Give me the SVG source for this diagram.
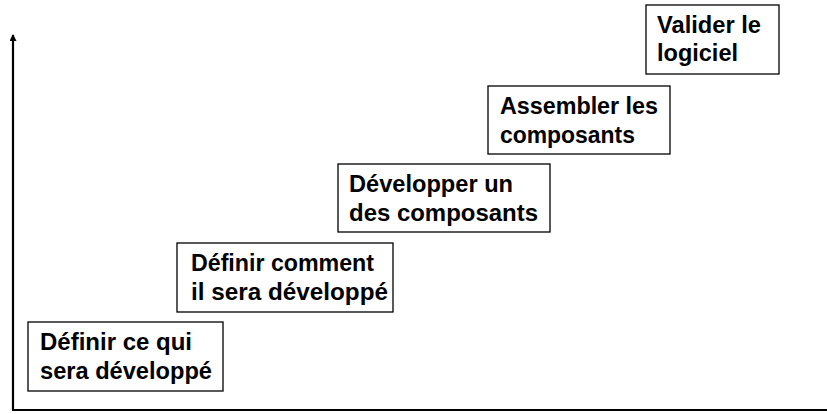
<svg xmlns="http://www.w3.org/2000/svg" width="827" height="414" viewBox="0 0 827 414">
<style>
.box{fill:#fff;stroke:#000;stroke-width:1.3}
.t{font-family:"Liberation Sans",Arial,sans-serif;font-weight:bold;font-size:23px;fill:#000}
.axis{stroke:#000;stroke-width:2.2;fill:none}
</style>
<defs>
<marker id="ah" markerWidth="8" markerHeight="8" refX="6" refY="3.5" orient="auto" markerUnits="userSpaceOnUse">
<path d="M0,0 L7,3.5 L0,7 Z" fill="#000"/>
</marker>
</defs>
<rect width="827" height="414" fill="#fff"/>
<g id="connectors">
<line class="axis" x1="13" y1="410" x2="13" y2="35" marker-end="url(#ah)"/>
<line class="axis" x1="12" y1="410" x2="827" y2="410"/>
</g>
<g id="n1">
<rect class="box" x="28" y="322" width="195" height="69"/>
<text class="t" x="40" y="350" textLength="152" lengthAdjust="spacingAndGlyphs">Définir ce qui</text>
<text class="t" x="40" y="379" textLength="172" lengthAdjust="spacingAndGlyphs">sera développé</text>
</g>
<g id="n2">
<rect class="box" x="177" y="243" width="216" height="69"/>
<text class="t" x="191" y="271" textLength="183" lengthAdjust="spacingAndGlyphs">Définir comment</text>
<text class="t" x="191" y="300" textLength="197" lengthAdjust="spacingAndGlyphs">il sera développé</text>
</g>
<g id="n3">
<rect class="box" x="338" y="164" width="212" height="68"/>
<text class="t" x="349" y="192" textLength="164" lengthAdjust="spacingAndGlyphs">Développer un</text>
<text class="t" x="349" y="221" textLength="189" lengthAdjust="spacingAndGlyphs">des composants</text>
</g>
<g id="n4">
<rect class="box" x="488" y="86" width="182" height="68"/>
<text class="t" x="500" y="114" textLength="158" lengthAdjust="spacingAndGlyphs">Assembler les</text>
<text class="t" x="500" y="143" textLength="135" lengthAdjust="spacingAndGlyphs">composants</text>
</g>
<g id="n5">
<rect class="box" x="646" y="5" width="133" height="69"/>
<text class="t" x="657" y="33" textLength="104" lengthAdjust="spacingAndGlyphs">Valider le</text>
<text class="t" x="657" y="61" textLength="81" lengthAdjust="spacingAndGlyphs">logiciel</text>
</g>
</svg>
